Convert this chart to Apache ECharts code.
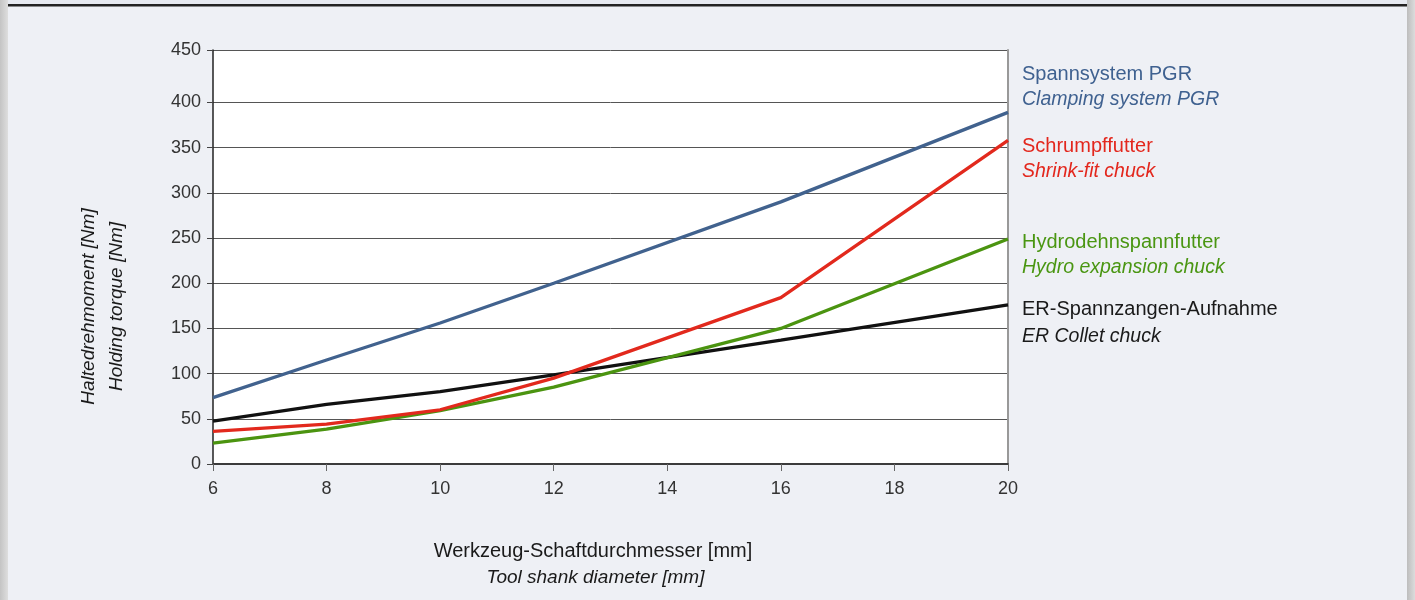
<!DOCTYPE html>
<html>
<head>
<meta charset="utf-8">
<script src="https://cdn.jsdelivr.net/npm/echarts@6/dist/echarts.min.js"></script>
<style>
html,body{margin:0;padding:0;background:#eef0f5;}
#c{width:1415px;height:600px;}
</style>
</head>
<body>
<div id="c"></div>
<script>
// ---- data ----
var xTicks = [6, 8, 10, 12, 14, 16, 18, 20];
var yTicks = [0, 50, 100, 150, 200, 250, 300, 350, 400];
var yTopValue = 458;            // top edge of the plot (labelled 450 in the original)
var yTopLabel = '450';
var shankDiameter = [6, 8, 10, 12, 16, 20];
var pgr      = [73.5, 115, 156, 200, 290, 389];
var shrink   = [36, 44, 60, 95, 184, 358];
var hydro    = [23, 38.5, 59, 85, 150, 249];
var erCollet = [47.5, 66, 80, 98.5, 137, 176];
var seriesNames = [
  ['Spannsystem PGR', 'Clamping system PGR'],
  ['Schrumpffutter', 'Shrink-fit chuck'],
  ['Hydrodehnspannfutter', 'Hydro expansion chuck'],
  ['ER-Spannzangen-Aufnahme', 'ER Collet chuck']
];
var xTitle = ['Werkzeug-Schaftdurchmesser [mm]', 'Tool shank diameter [mm]'];
var yTitle = ['Haltedrehmoment [Nm]', 'Holding torque [Nm]'];

var colors = ['#41628e', '#e2291d', '#4b9410', '#111111'];
var textColors = ['#3f6190', '#e3271d', '#4a9612', '#1a1a1a'];
var FONT = "'Liberation Sans', Arial, sans-serif";

function pairs(xs, ys) { return xs.map(function (x, i) { return [x, ys[i]]; }); }

var chart = echarts.init(document.getElementById('c'));

var seriesData = [pgr, shrink, hydro, erCollet];
var series = seriesData.map(function (vals, i) {
  return {
    name: seriesNames[i][0],
    type: 'line',
    data: pairs(shankDiameter, vals),
    symbol: 'none',
    smooth: false,
    lineStyle: { color: colors[i], width: 3.3 },
    z: 10 - i
  };
});

var legendY = [[74, 100], [146, 171.5], [242.5, 268], [309.5, 336.5]];
var graphics = [
  // page decorations
  { type: 'rect', left: 0, top: 0, shape: { width: 1415, height: 4 }, style: { fill: '#e6e9f0' }, silent: true },
  { type: 'rect', left: 8, top: 4, shape: { width: 1399, height: 2.5 }, style: { fill: '#222' }, silent: true },
  { type: 'rect', left: 0, top: 0, shape: { width: 8, height: 600 },
    style: { fill: new echarts.graphic.LinearGradient(0, 0, 1, 0, [{ offset: 0, color: '#c4c4c4' }, { offset: 1, color: '#dedede' }]) }, silent: true },
  { type: 'rect', left: 1407, top: 0, shape: { width: 8, height: 600 },
    style: { fill: new echarts.graphic.LinearGradient(0, 0, 1, 0, [{ offset: 0, color: '#bdbdbd' }, { offset: 1, color: '#dcdcdc' }]) }, silent: true }
];
seriesNames.forEach(function (nm, i) {
  graphics.push({ type: 'text', x: 1022, y: legendY[i][0],
    style: { text: nm[0], fill: textColors[i], font: '20px ' + FONT, textVerticalAlign: 'middle' } });
  graphics.push({ type: 'text', x: 1022, y: legendY[i][1],
    style: { text: nm[1], fill: textColors[i], font: 'italic 19.5px ' + FONT, textVerticalAlign: 'middle' } });
});
graphics.push({ type: 'text', x: 593, y: 551.5,
  style: { text: xTitle[0], fill: '#1a1a1a', font: '20px ' + FONT, textAlign: 'center', textVerticalAlign: 'middle' } });
graphics.push({ type: 'text', x: 595.5, y: 578,
  style: { text: xTitle[1], fill: '#1a1a1a', font: 'italic 19px ' + FONT, textAlign: 'center', textVerticalAlign: 'middle' } });
graphics.push({ type: 'text', x: 89, y: 306.5, rotation: Math.PI / 2,
  style: { text: yTitle[0], fill: '#1a1a1a', font: 'italic 19px ' + FONT, textAlign: 'center', textVerticalAlign: 'middle' } });
graphics.push({ type: 'text', x: 117, y: 306.5, rotation: Math.PI / 2,
  style: { text: yTitle[1], fill: '#1a1a1a', font: 'italic 19px ' + FONT, textAlign: 'center', textVerticalAlign: 'middle' } });

var yCustom = yTicks.concat([yTopValue]);

chart.setOption({
  animation: false,
  backgroundColor: '#eef0f5',
  textStyle: { fontFamily: FONT },
  grid: { left: 213, right: 407, top: 50, bottom: 136, show: true, backgroundColor: '#ffffff', borderWidth: 0, containLabel: false },
  xAxis: [{
    type: 'value', min: xTicks[0], max: xTicks[xTicks.length - 1], interval: 2,
    axisLine: { show: true, onZero: false, lineStyle: { color: '#8a8a8a', width: 2 } },
    axisTick: { show: true, inside: false, length: 7, lineStyle: { color: '#666', width: 1 } },
    axisLabel: { color: '#333', fontSize: 18, margin: 16, fontFamily: FONT,
      formatter: function (v) { return String(v); } },
    splitLine: { show: false }
  }, {
    type: 'value', position: 'top', min: xTicks[0], max: xTicks[xTicks.length - 1],
    axisLine: { show: true, lineStyle: { color: '#222', width: 1.5 } },
    axisTick: { show: false }, axisLabel: { show: false }, splitLine: { show: false }
  }],
  yAxis: [{
    type: 'value', min: 0, max: yTopValue,
    axisLine: { show: true, lineStyle: { color: '#222', width: 1.5 } },
    axisTick: { show: true, length: 6, customValues: yCustom, lineStyle: { color: '#444', width: 1 } },
    axisLabel: { color: '#333', fontSize: 18, margin: 12, fontFamily: FONT, customValues: yCustom,
      formatter: function (v) { return v === yTopValue ? yTopLabel : String(v); } },
    splitLine: { show: true, lineStyle: { color: '#555', width: 1 } }
  }, {
    type: 'value', position: 'right', min: 0, max: yTopValue,
    axisLine: { show: true, lineStyle: { color: '#999', width: 2 } },
    axisTick: { show: false }, axisLabel: { show: false }, splitLine: { show: false }
  }],
  series: series,
  graphic: graphics
});
</script>
</body>
</html>
